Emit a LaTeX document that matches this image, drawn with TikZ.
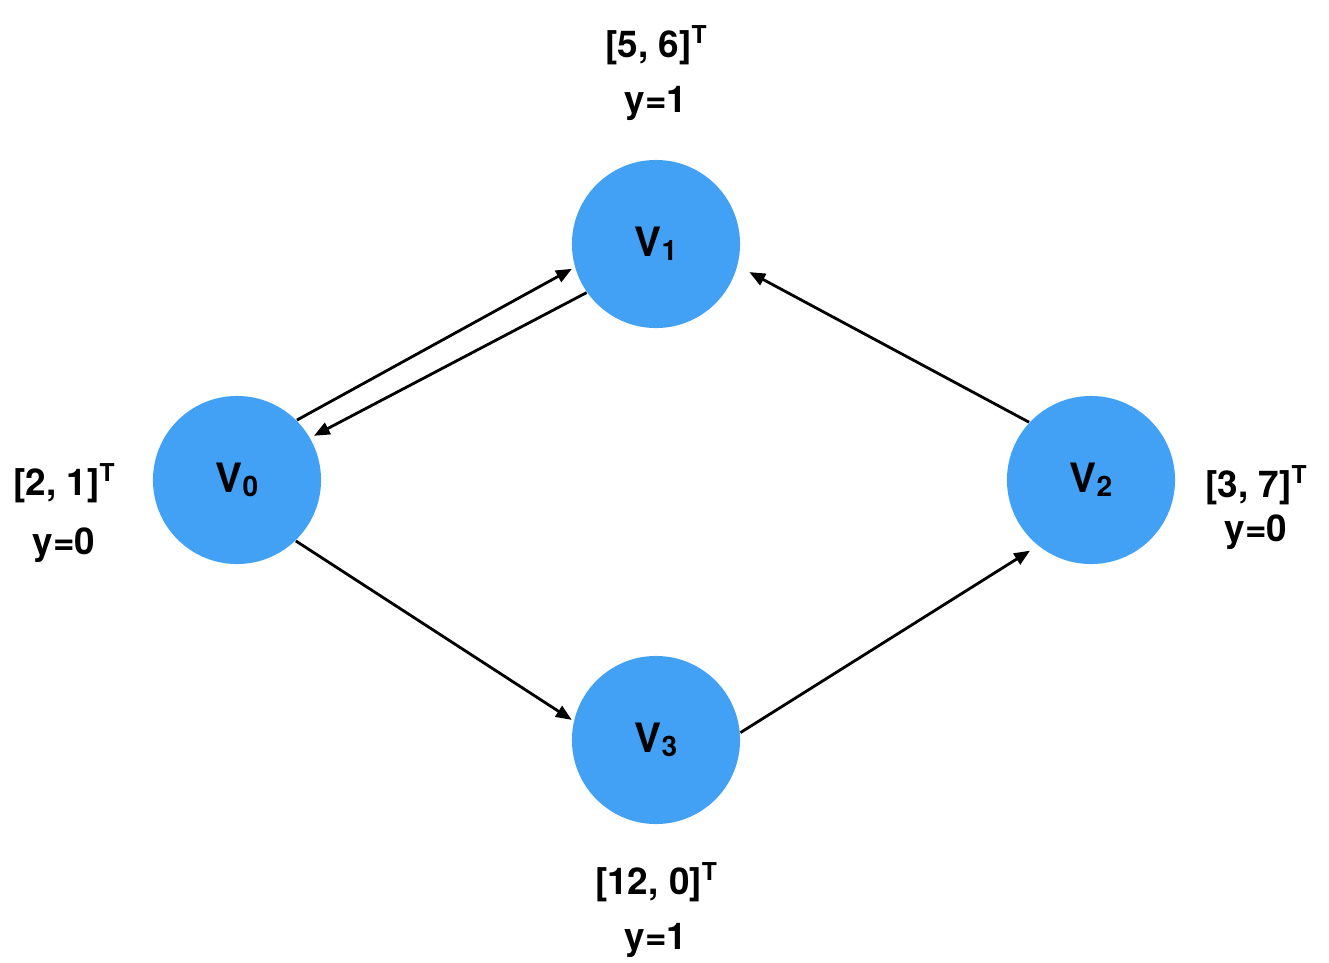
\documentclass[tikz,border=0pt]{standalone}
\usepackage{fontspec}
\setmainfont{TeX Gyre Heros}
\usetikzlibrary{arrows.meta}
\definecolor{nodeblue}{RGB}{66,161,245}
\newcommand{\supT}{\raisebox{0.72ex}{\fontsize{7}{8}\selectfont\bfseries T}}
\newcommand{\subn}[1]{\raisebox{-0.2ex}{\fontsize{8}{9}\selectfont\bfseries #1}}
\tikzset{
  vertex/.style={circle,fill=nodeblue,draw=none,minimum size=1.68cm,inner sep=0pt,font=\fontsize{11.5}{13}\selectfont\bfseries},
  lbl/.style={font=\fontsize{10.5}{12}\selectfont\bfseries,inner sep=0pt},
  edge/.style={line width=0.8pt,-{Triangle[length=4.5pt,width=3.6pt]}}
}
\begin{document}
\begin{tikzpicture}[x=0.01cm,y=-0.01cm]
\useasboundingbox (0,0) rectangle (1329,963);
\node[vertex] (v1) at (656,244) {V\subn{1}};
\node[vertex] (v0) at (237,480) {V\subn{0}};
\node[vertex] (v2) at (1091,480) {V\subn{2}};
\node[vertex] (v3) at (656,740) {V\subn{3}};

\node[lbl] (l1a) at (656,45) {[5, 6]\supT};
\node[lbl] (l1b) at (656,103) {y=1};
\node[lbl] (l0a) at (64,483) {[2, 1]\supT};
\node[lbl] (l0b) at (64,545) {y=0};
\node[lbl] (l2a) at (1256,485) {[3, 7]\supT};
\node[lbl] (l2b) at (1256,532) {y=0};
\node[lbl] (l3a) at (656,882) {[12, 0]\supT};
\node[lbl] (l3b) at (656,940) {y=1};

\draw[edge,shorten >=0.03cm] (v0.45) -- (v1.196);
\draw[edge,shorten >=0.04cm] (v1.215) -- (v0.30);
\draw[edge,shorten >=0.13cm] (v2.137) -- (v1.-15);
\draw[edge,shorten >=0.02cm] (v0.-46) -- (v3.167);
\draw[edge,shorten >=0.09cm] (v3.5) -- (v2.231);
\end{tikzpicture}
\end{document}
